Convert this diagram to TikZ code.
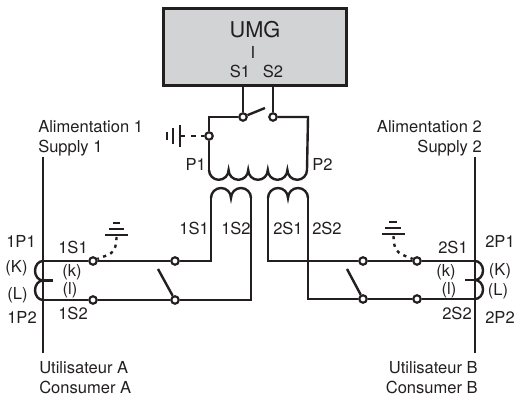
\documentclass[tikz,border=0pt]{standalone}
\usepackage{fontspec}
\setmainfont{TeX Gyre Heros}
\definecolor{umggray}{HTML}{D1D3D4}
\definecolor{ink}{HTML}{231F20}
\tikzset{
	wire/.style={line width=1.8pt,color=ink},
	term/.style={circle,draw=ink,line width=1.6pt,fill=white,inner sep=0pt,minimum size=5.6pt},
	lbl/.style={font=\fontsize{12.4}{14}\selectfont,text=ink,inner sep=0pt,anchor=base},
	lblw/.style={lbl,anchor=base west},
	lble/.style={lbl,anchor=base east},
	earthdash/.style={wire,dash pattern=on 2.4pt off 3.4pt},
}
\begin{document}
\begin{tikzpicture}[x=.75pt,y=.75pt]
	\useasboundingbox (0,0) rectangle (516,396);
	% instrument
	\node[draw=ink,line width=2pt,fill=umggray,minimum width=137pt,minimum height=57.5pt,inner sep=0pt] (UMG) at (255,349) {};
	\node[lbl,font=\fontsize{16.3}{18}\selectfont] (umgname) at (255,358.7) {UMG};
	\node[lbl] (umgI) at (253,337) {I};
	\node[lbl] (umgS1) at (240,318) {S1};
	\node[lbl] (umgS2) at (273,318) {S2};
	% main transformer
	\coordinate (S1) at (243,310);
	\coordinate (S2) at (273,310);
	\coordinate (PL) at (209,279);
	\coordinate (PR) at (308,279);
	\coordinate (Pa) at (209,226);
	\coordinate (Pb) at (307,226);
	\coordinate (Bl) at (265,288);
	\node[term] (T1) at (243,279) {};
	\node[term] (T2) at (273,279) {};
	\node[term] (T3) at (209,260) {};
	\draw[wire](S1)--(T1);
	\draw[wire](S2)--(T2);
	\draw[wire](T1)--(Bl);
	\draw[wire](T1)--(PL)--(T3);
	\draw[wire](T3)--(Pa);
	\draw[wire](T2)--(PR)--(Pb);
	\draw[wire](Pa) \foreach \i in {1,...,5}{arc[start angle=180,end angle=360,radius=9.8]};
	\node[lble] (P1) at (206,225.4) {P1};
	\node[lblw] (P2) at (312,225.4) {P2};
	% earth of the main transformer
	\coordinate (E0) at (180,260);
	\coordinate (E1) at (185,260);
	\coordinate (E2) at (191,260);
	\draw[wire](180,249)--(180,271);
	\draw[wire](173,252)--(173,268);
	\draw[wire](167,256)--(167,264);
	\draw[wire](E0)--(E1);
	\draw[wire,dash pattern=on 3.75pt off 3.75pt](E2)--(T3);
	% secondary coils
	\coordinate (La) at (211,198);
	\coordinate (Lb) at (251,198);
	\coordinate (Ra) at (268,198);
	\coordinate (Rb) at (308,198);
	\draw[wire](La) arc[start angle=180,end angle=0,radius=10] arc[start angle=180,end angle=0,radius=10];
	\draw[wire](Ra) arc[start angle=180,end angle=0,radius=10] arc[start angle=180,end angle=0,radius=10];
	\node[lble] (s1S1) at (209,161.4) {1S1};
	\node[lblw] (s1S2) at (221,161.4) {1S2};
	\node[lblw] (s2S1) at (273,161.4) {2S1};
	\node[lblw] (s2S2) at (312,161.4) {2S2};
	% left side
	\coordinate (A0) at (43,239);
	\coordinate (A1) at (43,135);
	\coordinate (A2) at (43,115.5);
	\coordinate (A3) at (43,96);
	\coordinate (A4) at (43,43);
	\coordinate (A5) at (53,115.5);
	\coordinate (Lc) at (211,135);
	\coordinate (Ld) at (251,96);
	\coordinate (Ls) at (158,127);
	\node[term] (a1) at (93,135) {};
	\node[term] (a2) at (175,135) {};
	\node[term] (a3) at (93,96) {};
	\node[term] (a4) at (175,96) {};
	\draw[wire](A0)--(A4);
	\draw[wire](A1) arc[start angle=90,end angle=270,x radius=8,y radius=9.75] arc[start angle=90,end angle=270,x radius=8,y radius=9.75];
	\draw[wire](A2)--(A5);
	\draw[wire](A1)--(a1);
	\draw[wire](a1)--(a2);
	\draw[wire](a2)--(Lc)--(La);
	\draw[wire](A3)--(a3);
	\draw[wire](a3)--(a4);
	\draw[wire](a4)--(Ld)--(Lb);
	\draw[wire](a4)--(Ls);
	\draw[wire](105,161)--(128,161);
	\draw[wire](108.5,167)--(124,167);
	\draw[wire](113,173)--(120,173);
	\coordinate (Ea) at (116.5,159);
	\draw[earthdash](Ea) .. controls (116.5,140) and (108,142) .. (a1);
	\node[lblw] (al1) at (38,263) {Alimentation 1};
	\node[lblw] (su1) at (38,243) {Supply 1};
	\node[lblw] (ut1) at (39,23) {Utilisateur A};
	\node[lblw] (co1) at (39,3) {Consumer A};
	\node[lbl] (a1P1) at (21,148.4) {1P1};
	\node[lbl] (aK) at (16.5,123.4) {(K)};
	\node[lbl] (aL) at (17.5,96.4) {(L)};
	\node[lbl] (a1P2) at (22,72.4) {1P2};
	\node[lbl] (a1S1) at (73,142.4) {1S1};
	\node[lbl] (ak) at (72,119.4) {(k)};
	\node[lbl] (al) at (70,101.4) {(l)};
	\node[lbl] (a1S2) at (73,76.4) {1S2};
	% right side
	\coordinate (B0) at (475,239);
	\coordinate (B1) at (475,135);
	\coordinate (B2) at (475,116);
	\coordinate (B3) at (475,97);
	\coordinate (B4) at (475,43);
	\coordinate (B5) at (465,116);
	\coordinate (Rc) at (268,135);
	\coordinate (Rd) at (308,97);
	\coordinate (Rs) at (347,127);
	\node[term] (b1) at (363,135) {};
	\node[term] (b2) at (417,135) {};
	\node[term] (b3) at (363,97) {};
	\node[term] (b4) at (417,97) {};
	\draw[wire](B0)--(B4);
	\draw[wire](B1) arc[start angle=90,end angle=-90,x radius=8,y radius=9.5] arc[start angle=90,end angle=-90,x radius=8,y radius=9.5];
	\draw[wire](B2)--(B5);
	\draw[wire](Ra)--(Rc)--(b1);
	\draw[wire](b1)--(b2);
	\draw[wire](b2)--(B1);
	\draw[wire](Rb)--(Rd)--(b3);
	\draw[wire](b3)--(b4);
	\draw[wire](b4)--(B3);
	\draw[wire](b3)--(Rs);
	\draw[wire](382,162)--(405,162);
	\draw[wire](385,168)--(401,168);
	\draw[wire](389,174)--(397,174);
	\coordinate (Eb) at (393.5,160);
	\draw[earthdash](Eb) .. controls (393.5,141) and (402,142) .. (b2);
	\node[lble] (al2) at (482,263) {Alimentation 2};
	\node[lble] (su2) at (482,243) {Supply 2};
	\node[lble] (ut2) at (478,23) {Utilisateur B};
	\node[lble] (co2) at (478,3) {Consumer B};
	\node[lbl] (b2P1) at (500,148.4) {2P1};
	\node[lbl] (bK) at (500,120.4) {(K)};
	\node[lbl] (bL) at (498,100.4) {(L)};
	\node[lbl] (b2P2) at (500,72.4) {2P2};
	\node[lbl] (b2S1) at (453,142.4) {2S1};
	\node[lbl] (bk) at (446,119.4) {(k)};
	\node[lbl] (bl) at (449,101.4) {(l)};
	\node[lbl] (b2S2) at (457,76.4) {2S2};
\end{tikzpicture}
\end{document}
